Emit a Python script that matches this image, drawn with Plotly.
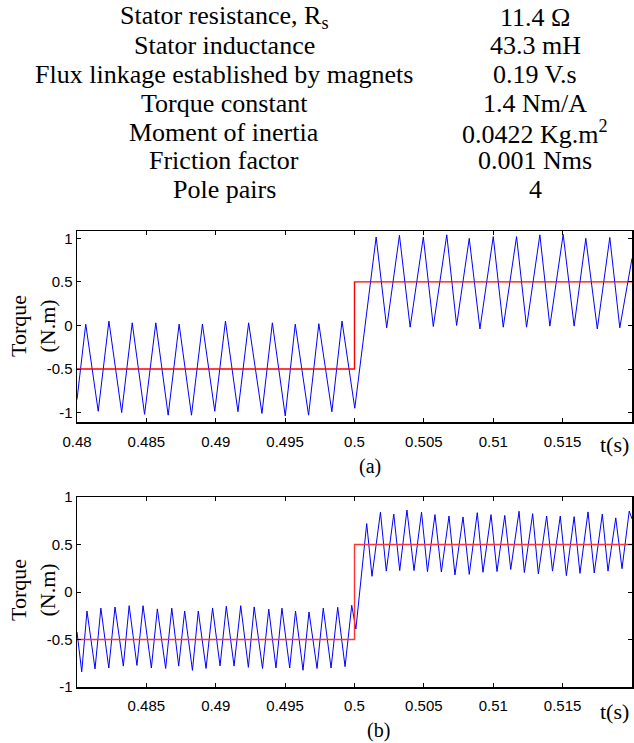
import plotly.graph_objects as go

W, H = 634, 743

# ---- parameter table ----
param_names = ["Stator resistance, R<sub>s</sub>", "Stator inductance",
               "Flux linkage established by magnets", "Torque constant",
               "Moment of inertia", "Friction factor", "Pole pairs"]
param_values = ["11.4 Ω", "43.3 mH", "0.19 V.s", "1.4 Nm/A",
                "0.0422 Kg.m<sup>2</sup>", "0.001 Nms", "4"]

# ---- reference torque (step) ----
ref_t = [0.48, 0.5, 0.5, 0.52]
ref_torque = [-0.5, -0.5, 0.5, 0.5]

# ---- (a) electromagnetic torque ----
ta_t = [0.48000, 0.48063, 0.48153, 0.48230, 0.48322, 0.48398, 0.48487, 0.48568,
        0.48657, 0.48736, 0.48825, 0.48904, 0.48993, 0.49070, 0.49160, 0.49237,
        0.49333, 0.49408, 0.49501, 0.49573, 0.49669, 0.49743, 0.49837, 0.49910,
        0.50002, 0.50156, 0.50232, 0.50324, 0.50401, 0.50496, 0.50568, 0.50665,
        0.50736, 0.50827, 0.50904, 0.51000, 0.51072, 0.51168, 0.51240, 0.51336,
        0.51408, 0.51504, 0.51583, 0.51667, 0.51750, 0.51840, 0.51912, 0.52000]
ta_torque = [-0.85, 0.015, -0.985, 0.05, -1.0, 0.03, -1.02, 0.03,
             -1.03, 0.015, -1.03, 0.015, -0.985, 0.05, -0.99, 0.03,
             -1.01, 0.03, -1.04, 0.015, -1.03, 0.02, -0.99, 0.05,
             -0.95, 1.015, -0.027, 1.035, -0.02, 1.015, -0.012, 1.04,
             0.0, 1.0, -0.04, 1.02, -0.02, 1.02, -0.02, 1.04,
             -0.008, 1.045, -0.008, 1.0, -0.04, 1.01, -0.027, 0.77]

# ---- (b) electromagnetic torque ----
tb_t = [0.48000, 0.48034, 0.48072, 0.48130, 0.48172, 0.48229, 0.48274, 0.48334, 0.48376, 0.48432,
        0.48476, 0.48536, 0.48579, 0.48639, 0.48683, 0.48733, 0.48776, 0.48832, 0.48874, 0.48930,
        0.48977, 0.49031, 0.49076, 0.49132, 0.49180, 0.49235, 0.49277, 0.49337, 0.49382, 0.49434,
        0.49477, 0.49533, 0.49575, 0.49629, 0.49672, 0.49730, 0.49775, 0.49831, 0.49879, 0.49932,
        0.49980, 0.50010, 0.50088, 0.50126, 0.50187, 0.50229, 0.50283, 0.50326, 0.50378, 0.50429,
        0.50483, 0.50526, 0.50580, 0.50626, 0.50681, 0.50724, 0.50782, 0.50827, 0.50885, 0.50926,
        0.50984, 0.51027, 0.51083, 0.51126, 0.51186, 0.51224, 0.51284, 0.51325, 0.51385, 0.51427,
        0.51483, 0.51527, 0.51583, 0.51625, 0.51683, 0.51728, 0.51786, 0.51827, 0.51883, 0.51928,
        0.51980, 0.52000]
tb_torque = [-0.42, -0.84, -0.2, -0.81, -0.17, -0.80, -0.158, -0.78, -0.144, -0.773,
             -0.144, -0.80, -0.178, -0.805, -0.17, -0.78, -0.2, -0.825, -0.2, -0.805,
             -0.168, -0.778, -0.15, -0.78, -0.144, -0.793, -0.157, -0.805, -0.18, -0.8,
             -0.17, -0.80, -0.2, -0.824, -0.21, -0.805, -0.17, -0.80, -0.16, -0.786,
             -0.14, -0.39, 0.72, 0.165, 0.84, 0.22, 0.82, 0.225, 0.863, 0.225,
             0.84, 0.215, 0.815, 0.21, 0.80, 0.18, 0.79, 0.185, 0.835, 0.207,
             0.815, 0.215, 0.806, 0.237, 0.85, 0.205, 0.824, 0.19, 0.80, 0.22,
             0.80, 0.172, 0.793, 0.196, 0.843, 0.2, 0.82, 0.22, 0.78, 0.245,
             0.852, 0.77]

xtick_a = [0.48, 0.485, 0.49, 0.495, 0.5, 0.505, 0.51, 0.515]
xtick_b = [0.485, 0.49, 0.495, 0.5, 0.505, 0.51, 0.515]
ytick = [-1, -0.5, 0, 0.5, 1]

def lbl(v):
    return ("%g" % v)

SERIF = "Liberation Serif, Times New Roman, serif"
SANS = "Liberation Sans, Arial, sans-serif"

# window pixel -> paper fraction
def px(x):
    return x / W

def py(y):
    return 1 - y / H

fig = go.Figure()
fig.add_trace(go.Scatter(x=ta_t, y=ta_torque, mode="lines",
                         line=dict(color="#0000FF", width=1.0),
                         xaxis="x", yaxis="y", showlegend=False))
fig.add_trace(go.Scatter(x=ref_t, y=ref_torque, mode="lines",
                         line=dict(color="#FF0000", width=1.4),
                         xaxis="x", yaxis="y", showlegend=False))
fig.add_trace(go.Scatter(x=tb_t, y=tb_torque, mode="lines",
                         line=dict(color="#0000FF", width=1.0),
                         xaxis="x2", yaxis="y2", showlegend=False))
fig.add_trace(go.Scatter(x=ref_t, y=ref_torque, mode="lines",
                         line=dict(color="#FF3333", width=1.4),
                         xaxis="x2", yaxis="y2", showlegend=False))

axcommon = dict(showline=True, linecolor="black", linewidth=1.5, mirror="ticks",
                ticks="inside", ticklen=4, tickcolor="black", tickwidth=1,
                showgrid=False, zeroline=False, automargin=False,
                tickfont=dict(family=SANS, size=15, color="black"))

fig.update_layout(
    template="none",
    width=W, height=H,
    margin=dict(l=0, r=0, t=0, b=0, pad=0),
    paper_bgcolor="white", plot_bgcolor="white",
    showlegend=False,
    xaxis=dict(domain=[px(77), px(632)], range=[0.48, 0.52], anchor="y",
               tickvals=xtick_a, ticktext=[lbl(v) for v in xtick_a],
               ticklabelstandoff=5, **axcommon),
    yaxis=dict(domain=[py(422), py(231)], range=[-1.108, 1.084], anchor="x",
               tickvals=ytick, ticktext=[lbl(v) for v in ytick], **axcommon),
    xaxis2=dict(domain=[px(77), px(632)], range=[0.48, 0.52], anchor="y2",
                tickvals=xtick_b, ticktext=[lbl(v) for v in xtick_b],
                ticklabelstandoff=4, **axcommon),
    yaxis2=dict(domain=[py(687), py(497)], range=[-1, 1], anchor="x2",
                tickvals=ytick, ticktext=[lbl(v) for v in ytick], **axcommon),
)

ann = []
row0, rowstep = 17, 28.8
for i, (n, v) in enumerate(zip(param_names, param_values)):
    yy = py(row0 + i * rowstep)
    ann.append(dict(x=px(224), y=yy, xref="paper", yref="paper", text=n,
                    showarrow=False, xanchor="center", yanchor="middle",
                    font=dict(family=SERIF, size=26, color="black")))
    ann.append(dict(x=px(535), y=yy, xref="paper", yref="paper", text=v,
                    showarrow=False, xanchor="center", yanchor="middle",
                    font=dict(family=SERIF, size=26, color="black")))

for yc in (326, 590):
    ann.append(dict(x=px(33), y=py(yc), xref="paper", yref="paper",
                    text="Torque<br>(N.m)", textangle=-90, showarrow=False,
                    xanchor="center", yanchor="middle",
                    font=dict(family=SERIF, size=22, color="black")))

for xc, yc, t in ((614, 444, "t(s)"), (614, 711, "t(s)"),
                  (370, 466, "(a)"), (378, 730, "(b)")):
    ann.append(dict(x=px(xc), y=py(yc), xref="paper", yref="paper", text=t,
                    showarrow=False, xanchor="center", yanchor="middle",
                    font=dict(family=SERIF, size=22 if t == "t(s)" else 20, color="black")))

fig.update_layout(annotations=ann)
fig.write_html("out.html",
               config={"displayModeBar": False, "staticPlot": True},
               post_script="document.body.style.margin='0';"
                           "document.body.style.overflow='hidden';")
